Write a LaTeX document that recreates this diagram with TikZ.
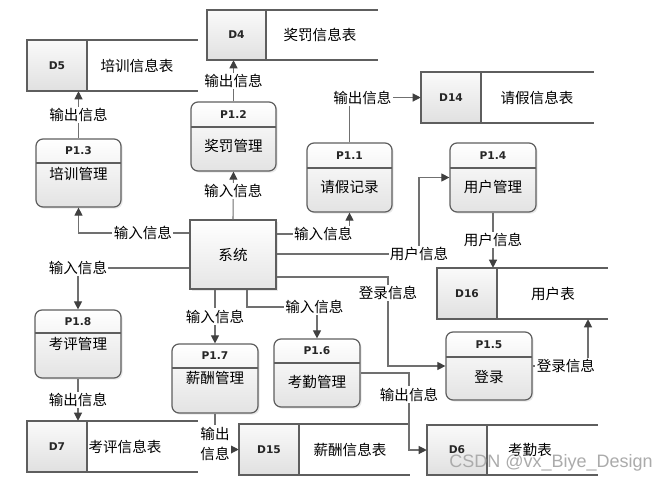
\documentclass[tikz,border=0pt]{standalone}
\usepackage{fontspec}
\setmainfont{Noto Sans CJK SC}
\newfontfamily\idfont{DejaVu Sans}
\newfontfamily\wmfont{Liberation Sans}
\usetikzlibrary{arrows.meta,fit,shadows,calc}
\definecolor{edge}{HTML}{5E5E5E}
\definecolor{conn}{HTML}{707070}
\definecolor{tipc}{HTML}{404040}
\tikzset{
 proc/.style={draw=edge, line width=0.9pt, rounded corners=5.25pt, inner sep=0pt,
   top color=white, bottom color=black!11,
   drop shadow={shadow xshift=1.2pt, shadow yshift=-1.2pt, opacity=0.18}},
 sysbox/.style={draw=edge, line width=0.9pt, inner sep=0pt,
   top color=white, bottom color=black!10,
   drop shadow={shadow xshift=1.2pt, shadow yshift=-1.2pt, opacity=0.18}},
 storecell/.style={draw=edge, line width=0.9pt, inner sep=0pt, top color=black!2, bottom color=black!12},
 boxline/.style={draw=edge, line width=0.9pt},
 idtxt/.style={font=\idfont\bfseries\fontsize{8}{9}\selectfont, text=black!85, inner sep=0pt},
 cntxt/.style={font=\fontsize{10.9}{12}\selectfont, inner sep=0pt},
 lbl/.style={font=\fontsize{10.9}{12}\selectfont, fill=white, inner sep=1pt},
 flow/.style={draw=conn, line width=0.8pt, -{Triangle[length=6pt,width=6pt,color=tipc]}},
}
% process: name, x1, y1, x2, y2, divider y, text y, id, text
\newcommand\procbox[9]{%
 \node[proc, fit={(#2,#3) (#4,#5)}] (#1) {};
 \draw[boxline] (#2,#6) -- (#4,#6);
 \node[idtxt] (#1id) at ({(#2+#4)/2},{(#3+#6)/2}) {#8};
 \node[cntxt] (#1tx) at ({(#2+#4)/2},#7) {#9};
}
% store: name, x1, y1, xdiv, x2, y2, id, text, text x
\newcommand\storebox[9]{%
 \node[fit={(#2,#3) (#5,#6)}, inner sep=0pt] (#1) {};
 \node[storecell, fit={(#2,#3) (#4,#6)}] (#1c) {};
 \draw[boxline] (#4,#3) -- (#5,#3) (#4,#6) -- (#5,#6);
 \node[idtxt] (#1id) at (#1c) {#7};
 \node[cntxt] (#1tx) at (#9,{(#3+#6)/2}) {#8};
}
\begin{document}
\begin{tikzpicture}[x=0.75pt,y=-0.75pt]
\useasboundingbox[fill=white] (0,0) rectangle (669,483);

% helper coordinates
\coordinate (y233) at (0,233);
\coordinate (y234) at (0,234);
\coordinate (y254) at (0,254);
\coordinate (y268) at (0,268);
\coordinate (y277) at (0,277);
\coordinate (y307) at (0,307);
\coordinate (bx247) at (247,0);
\coordinate (bx388) at (388,0);
\coordinate (bx409) at (409,0);
\coordinate (bx419) at (419,0);
\coordinate (bx588) at (588,0);

% data stores
\storebox{d4}{207}{10}{266}{378}{60}{D4}{奖罚信息表}{320}
\storebox{d5}{27}{40}{87}{198}{91}{D5}{培训信息表}{137}
\storebox{d14}{421}{72}{481}{594}{123}{D14}{请假信息表}{537}
\storebox{d16}{437}{268}{497}{608}{319}{D16}{用户表}{553}
\storebox{d7}{27}{421}{87}{198}{472}{D7}{考评信息表}{125}
\storebox{d15}{239}{424}{299}{410}{475}{D15}{薪酬信息表}{350}
\storebox{d6}{427}{425}{487}{598}{475}{D6}{考勤表}{530}

% processes
\procbox{p13}{36}{139}{121}{207}{163}{174}{P1.3}{培训管理}
\procbox{p12}{191}{102}{276}{171}{127}{146}{P1.2}{奖罚管理}
\procbox{p11}{307}{143}{392}{212}{168}{187}{P1.1}{请假记录}
\procbox{p14}{450}{143}{536}{212}{168}{187}{P1.4}{用户管理}
\procbox{p15}{446}{332}{532}{400}{357}{377}{P1.5}{登录}
\procbox{p18}{35}{310}{121}{378}{333}{344}{P1.8}{考评管理}
\procbox{p17}{172}{344}{258}{413}{368}{378}{P1.7}{薪酬管理}
\procbox{p16}{274}{339}{360}{407}{363}{382}{P1.6}{考勤管理}

% system
\node[sysbox, fit={(190,220) (276,289)}] (sys) {};
\node[cntxt] (systx) at (sys) {系统};

% connectors
\draw[flow] (p13.north) -- node[lbl]{输出信息} (p13.north |- d5.south);
\draw[flow] (p12.north) -- node[lbl]{输出信息} (p12.north |- d4.south);
\draw[flow] (sys.north) -- node[lbl,pos=0.6]{输入信息} (p12.south);
\draw[flow] (sys.west |- y233) -| node[lbl,pos=0.21]{输入信息} (p13.south);
\draw[flow] (sys.east |- y234) -| node[lbl,pos=0.32]{输入信息} (p11.south);
\draw[flow] (p11.north) |- node[lbl,pos=0.59]{输出信息} (d14.west);
\draw[flow] (sys.east |- y254) -| node[lbl,pos=0.5]{用户信息} (bx419 |- p14.west) -- (p14.west);
\draw[flow] (p14.south) -- node[lbl]{用户信息} (p14.south |- d16.north);
\draw[flow] (sys.east |- y277) -- (bx388 |- y277) -- node[lbl,pos=0.18]{登录信息} (bx388 |- p15.west) -- (p15.west);
\draw[flow] (p15.east) -| node[lbl,pos=0.3]{登录信息} (bx588 |- d16.south);
\draw[flow] (sys.west |- y268) -| node[lbl,pos=0.5]{输入信息} (p18.north);
\draw[flow] (p18.south) -- node[lbl]{输出信息} (p18.south |- d7.north);
\draw[flow] (p17.north |- sys.south) -- node[lbl]{输入信息} (p17.north);
\draw[flow] (p17.south) |- node[lbl,pos=0.5,yshift=4.5pt,align=center,font=\fontsize{10.9}{15}\selectfont]{输出\\信息} (d15.west);
\draw[flow] (bx247 |- sys.south) |- node[lbl,pos=1,xshift=-2pt]{输入信息} (p16.north |- y307) -- (p16.north);
\draw[flow] (p16.east) -| node[lbl,pos=0.64]{输出信息} (bx409 |- d6.west) -- (d6.west);

% watermark
\node[font=\wmfont\fontsize{13.5}{14}\selectfont, text=black!33, inner sep=0pt] (wm) at (551,463) {CSDN @vx\_Biye\_Design};
\end{tikzpicture}
\end{document}
